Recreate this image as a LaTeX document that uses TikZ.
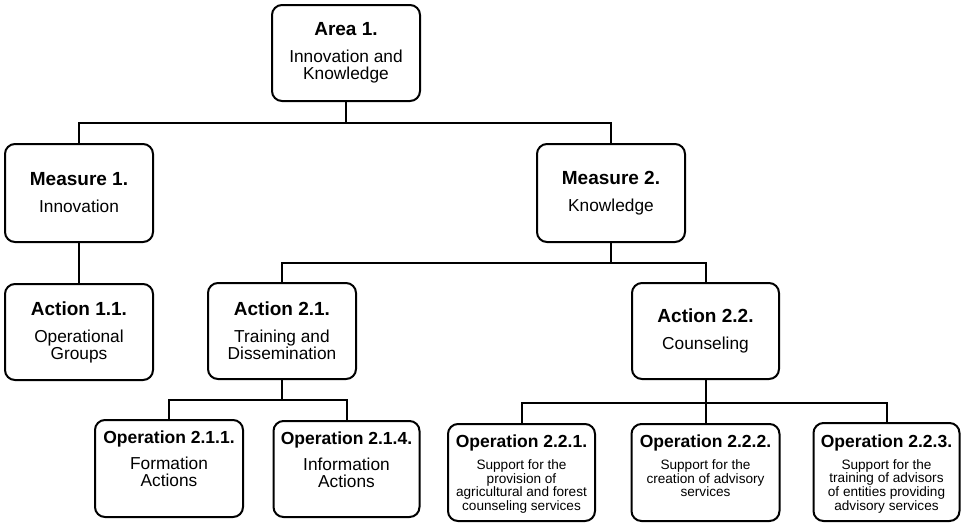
\documentclass[tikz,border=0pt]{standalone}
\usepackage{fontspec}
\setmainfont{Liberation Sans}

% Text block of a box: bold heading over a plain description.
% #1 heading size, #2 body size, #3 body line skip, #4 gap, #5 heading, #6 body
\newcommand{\cardbody}[6]{%
  \begin{minipage}{146pt}\centering\parskip=0pt
    {\fontsize{#1}{#1}\selectfont\bfseries #5\par}%
    \vspace{#4}%
    {\fontsize{#2}{#3}\selectfont #6\par}%
  \end{minipage}}
% Same, but set at the top of a fixed-height area (bottom row of operations)
\newcommand{\topbody}[6]{%
  \begin{minipage}[c][75pt][t]{146pt}\centering\parskip=0pt
    {\fontsize{#1}{#1}\selectfont\bfseries #5\par}%
    \vspace{#4}%
    {\fontsize{#2}{#3}\selectfont #6\par}\vss
  \end{minipage}}
\newcommand{\bigcard}[2]{\cardbody{19}{17.3}{17}{10pt}{#1}{#2}}
\newcommand{\opcard}[2]{\topbody{17.5}{17.3}{17}{9pt}{#1}{#2}}
\newcommand{\smallcard}[2]{\topbody{17.5}{13.6}{13.6}{8.5pt}{#1}{#2}}

\begin{document}
\begin{tikzpicture}[x=1pt,y=-1pt,
  card/.style={draw=black, line width=2pt, rounded corners=10pt, fill=white,
    inner sep=0pt, minimum width=148pt, minimum height=96pt},
  link/.style={draw=black, line width=2pt}]
\useasboundingbox (0,0) rectangle (961,523);

% Level 0
\node[card] (area) at (346,53) {\bigcard{Area 1.}{Innovation and\\Knowledge}};
% Level 1
\node[card, minimum height=98pt] (m1) at (79,193) {\bigcard{Measure 1.}{Innovation}};
\node[card, minimum height=98pt] (m2) at (611,193) {\bigcard{Measure 2.}{Knowledge}};
% Level 2
\node[card] (a11) at (79,332) {\bigcard{Action 1.1.}{Operational\\Groups}};
\node[card] (a21) at (282,331) {\bigcard{Action 2.1.}{Training and\\Dissemination}};
\node[card, minimum width=147pt] (a22) at (705.5,331) {\bigcard{Action 2.2.}{Counseling}};
% Level 3
\node[card, minimum height=97pt] (o211) at (169,468.5)
  {\opcard{Operation 2.1.1.}{Formation\\Actions}};
\node[card, minimum width=145pt] (o214) at (346.5,469)
  {\opcard{Operation 2.1.4.}{Information\\Actions}};
\node[card, minimum width=147pt, minimum height=97pt] (o221) at (521.5,472.5)
  {\smallcard{Operation 2.2.1.}{Support for the\\provision of\\agricultural and forest\\counseling services}};
\node[card, minimum height=97pt] (o222) at (705.5,472.5)
  {\smallcard{Operation 2.2.2.}{Support for the\\creation of advisory\\services}};
\node[card, minimum width=145pt, minimum height=98pt] (o223) at (886.5,472)
  {\smallcard{Operation 2.2.3.}{Support for the\\training of advisors\\of entities providing\\advisory services}};

% Connectors
\draw[link] (area.south) -- ++(0,21) coordinate (hub0) -| (m1.north);
\draw[link] (hub0) -| (m2.north);
\draw[link] (m1.south) -- (a11.north);
\draw[link] (m2.south) -- ++(0,20) coordinate (hub1) -| (a21.north);
\draw[link] (hub1) -| (a22.north);
\draw[link] (a21.south) -- ++(0,20) coordinate (hub2) -| (o211.north);
\draw[link] (hub2) -| (o214.north);
\draw[link] (a22.south) -- ++(0,23) coordinate (hub3) -| (o221.north);
\draw[link] (hub3) -| (o223.north);
\draw[link] (hub3) -- (o222.north);
\end{tikzpicture}
\end{document}
